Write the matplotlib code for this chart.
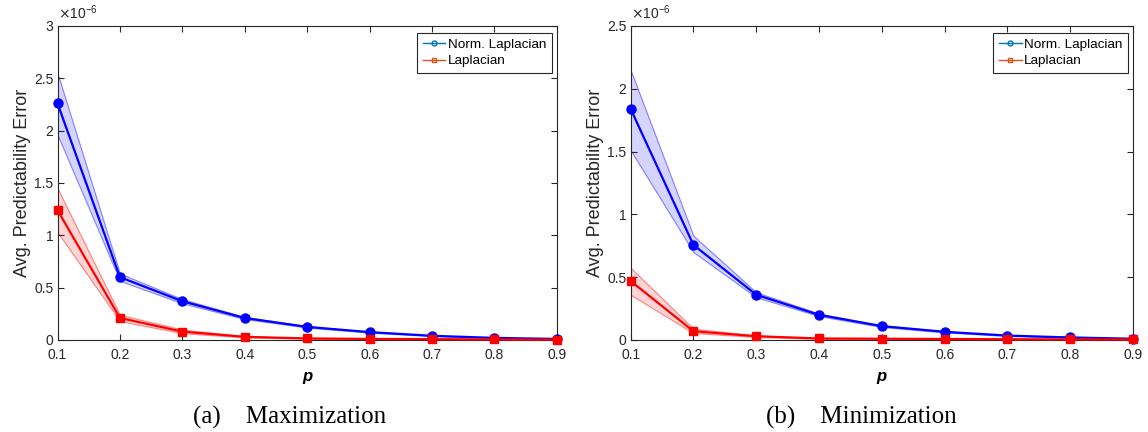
import numpy as np
import matplotlib
matplotlib.use('Agg')
import matplotlib.pyplot as plt
from matplotlib.ticker import FuncFormatter

plt.rcParams['font.family'] = ['Liberation Sans', 'DejaVu Sans']

p = [0.1, 0.2, 0.3, 0.4, 0.5, 0.6, 0.7, 0.8, 0.9]

# Maximization (values in 1e-6)
max_norm = [2.26, 0.60, 0.37, 0.21, 0.125, 0.075, 0.04, 0.02, 0.01]
max_norm_hi = [2.55, 0.635, 0.39, 0.22, 0.132, 0.08, 0.043, 0.022, 0.011]
max_norm_lo = [1.96, 0.565, 0.35, 0.20, 0.118, 0.07, 0.037, 0.018, 0.009]
max_lap = [1.24, 0.21, 0.08, 0.03, 0.015, 0.01, 0.008, 0.005, 0.003]
max_lap_hi = [1.45, 0.24, 0.10, 0.036, 0.018, 0.012, 0.009, 0.006, 0.004]
max_lap_lo = [1.03, 0.18, 0.065, 0.025, 0.012, 0.008, 0.007, 0.004, 0.002]

# Minimization (values in 1e-6)
min_norm = [1.84, 0.757, 0.36, 0.20, 0.11, 0.065, 0.035, 0.02, 0.01]
min_norm_hi = [2.15, 0.83, 0.38, 0.21, 0.117, 0.07, 0.038, 0.022, 0.011]
min_norm_lo = [1.51, 0.70, 0.34, 0.19, 0.103, 0.06, 0.032, 0.018, 0.009]
min_lap = [0.47, 0.07, 0.03, 0.012, 0.01, 0.008, 0.006, 0.005, 0.004]
min_lap_hi = [0.575, 0.09, 0.036, 0.015, 0.012, 0.01, 0.008, 0.006, 0.005]
min_lap_lo = [0.36, 0.055, 0.024, 0.009, 0.008, 0.006, 0.004, 0.004, 0.003]

panels = [
    ('(a)    Maximization', max_norm, max_norm_lo, max_norm_hi, max_lap, max_lap_lo, max_lap_hi, 3.0),
    ('(b)    Minimization', min_norm, min_norm_lo, min_norm_hi, min_lap, min_lap_lo, min_lap_hi, 2.5),
]

fig = plt.figure(figsize=(11.48, 4.32), dpi=100)
positions = [[0.0501, 0.213, 0.435, 0.727], [0.5493, 0.213, 0.4377, 0.727]]
caption_x = [0.2526, 0.75]
s = 1e-6
axcol = '#262626'

for pos, cx, (cap, nm, nlo, nhi, lp, llo, lhi, ymax) in zip(positions, caption_x, panels):
    ax = fig.add_axes(pos)
    ax.fill_between(p, np.array(nlo) * s, np.array(nhi) * s, facecolor=(0, 0, 1, 0.17),
                    edgecolor=(0, 0, 1, 0.45), linewidth=0.8)
    ax.fill_between(p, np.array(llo) * s, np.array(lhi) * s, facecolor=(1, 0, 0, 0.17),
                    edgecolor=(1, 0, 0, 0.45), linewidth=0.8)
    ax.plot(p, np.array(nm) * s, color='blue', lw=1.6, marker='o', ms=6.5, clip_on=False, zorder=3)
    ax.plot(p, np.array(lp) * s, color='red', lw=1.6, marker='s', ms=5.5, clip_on=False, zorder=3)
    # legend entries use MATLAB default colours
    ax.plot([], [], color='#0072BD', lw=1, marker='o', ms=3.5, mfc='none', label='Norm. Laplacian')
    ax.plot([], [], color='#D95319', lw=1, marker='s', ms=3.5, mfc='none', label='Laplacian')
    ax.set_xlim(0.1, 0.9)
    ax.set_ylim(0, ymax * s)
    ax.set_xticks(p)
    ax.set_yticks(np.arange(0, ymax + 0.01, 0.5) * s)
    ax.yaxis.set_major_formatter(FuncFormatter(lambda v, _: f'{v / s:g}'))
    ax.text(0.0, 1.012, r'$\times\mathregular{10^{-6}}$', transform=ax.transAxes,
            fontsize=10, color=axcol, ha='left', va='bottom')
    ax.tick_params(direction='in', top=True, right=True, labelsize=10, colors=axcol,
                   length=4, width=0.8)
    ax.tick_params(axis='x', pad=6)
    ax.tick_params(axis='y', pad=3)
    for sp in ax.spines.values():
        sp.set_color(axcol)
        sp.set_linewidth(0.8)
    ax.set_ylabel('Avg. Predictability Error', fontsize=13, color=axcol, labelpad=2.5)
    ax.set_xlabel('p', fontsize=12, fontweight='bold', fontstyle='italic', labelpad=5)
    leg = ax.legend(loc='upper right', bbox_to_anchor=(0.99, 0.977), borderaxespad=0,
                    fontsize=9.7, fancybox=False, edgecolor=axcol, framealpha=1,
                    handlelength=1.7, borderpad=0.4, labelspacing=0.3, handletextpad=0.2)
    leg.get_frame().set_linewidth(0.8)
    fig.text(cx, 1 - 417 / 432, cap, ha='center', va='center',
             fontsize=18, family='Liberation Serif')

fig.savefig('out.png', dpi=100)
